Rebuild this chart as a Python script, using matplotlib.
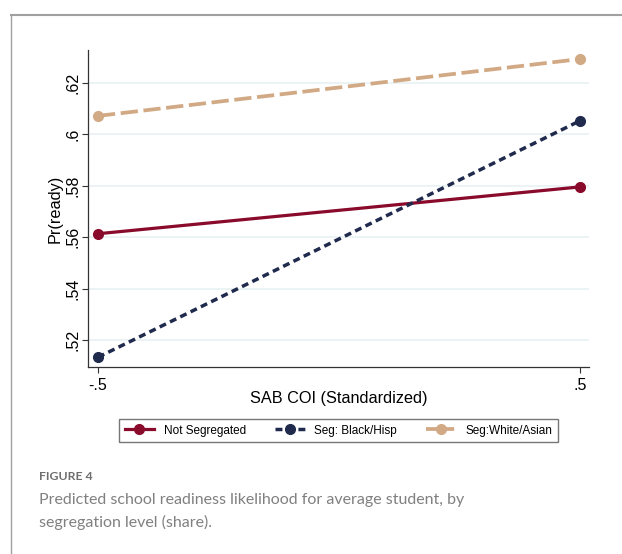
import matplotlib.pyplot as plt
from matplotlib.lines import Line2D

plt.rcParams['font.family'] = ['Liberation Sans', 'DejaVu Sans']

# data
x_vals = [-0.5, 0.5]
not_seg = [0.5613, 0.5795]
seg_black_hisp = [0.5133, 0.6052]
seg_white_asian = [0.6071, 0.6292]
y_ticks = [0.52, 0.54, 0.56, 0.58, 0.60, 0.62]
y_tick_labels = [".52", ".54", ".56", ".58", ".6", ".62"]
x_ticks = [-0.5, 0.5]
x_tick_labels = ["-.5", ".5"]

red = "#8a0a2b"
navy = "#1f2a4d"
tan = "#d2a985"

fig = plt.figure(figsize=(6.22, 5.54), dpi=100)
ax = fig.add_axes([0.1415, 0.3375, 0.8055, 0.5722])

for yt in y_ticks:
    ax.axhline(yt, color="#e6f0f3", lw=1.1, zorder=0)

ax.plot(x_vals, seg_white_asian, color=tan, lw=2.7, dashes=(4.6, 1.5),
        marker="o", ms=7, label="Seg:White/Asian")
ax.plot(x_vals, not_seg, color=red, lw=2.3, marker="o", ms=7,
        label="Not Segregated")
ax.plot(x_vals, seg_black_hisp, color=navy, lw=2.5, dashes=(2, 1.3),
        marker="o", ms=7, label="Seg: Black/Hisp")

ax.set_xlim(-0.5207, 0.5187)
ax.set_ylim(0.5095, 0.6327)
ax.set_yticks(y_ticks)
ax.set_yticklabels(y_tick_labels, rotation=90, va="center", fontsize=11.5)
ax.set_xticks(x_ticks)
ax.set_xticklabels(x_tick_labels, fontsize=11.5)
ax.tick_params(axis="both", length=4.3, width=0.8, color="#333333")
ax.tick_params(axis="y", pad=0.8)
ax.spines["top"].set_visible(False)
ax.spines["right"].set_visible(False)
for s in ["left", "bottom"]:
    ax.spines[s].set_color("#333333")
    ax.spines[s].set_linewidth(0.9)
ax.set_ylabel("Pr(ready)", fontsize=11.7, labelpad=2.5)
ax.set_xlabel("SAB COI (Standardized)", fontsize=11.7, labelpad=-1)

handles = [
    Line2D([], [], color=red, lw=2.3, marker="o", ms=7),
    Line2D([], [], color=navy, lw=2.5, dashes=(2, 1.3), marker="o", ms=7),
    Line2D([], [], color=tan, lw=2.7, dashes=(3, 1.5), marker="o", ms=7),
]
labels = ["Not Segregated", "Seg: Black/Hisp", "Seg:White/Asian"]
leg = fig.legend(handles, labels, loc="center", bbox_to_anchor=(0.5442, 0.2229),
                 ncol=3, fontsize=8.5, frameon=True, fancybox=False,
                 handlelength=2.5, columnspacing=2.5, borderpad=0.5,
                 handletextpad=0.8)
leg.get_frame().set_edgecolor("#555555")
leg.get_frame().set_linewidth(1.0)

# outer frame (top and left edges)
fig.add_artist(Line2D([11 / 622, 1.0], [1 - 15 / 554, 1 - 15 / 554],
                      transform=fig.transFigure, color="#a0a0a0", lw=1.5))
fig.add_artist(Line2D([11 / 622, 11 / 622], [0.0, 1 - 15 / 554],
                      transform=fig.transFigure, color="#a0a0a0", lw=1.0))

fig.text(39 / 622, 1 - 477 / 554, "FIGURE 4", fontsize=8.8, color="#6e6e6e",
         va="center", ha="left", family="Lato", weight="bold")
fig.text(39 / 622, 1 - 500 / 554,
         "Predicted school readiness likelihood for average student, by",
         fontsize=11.5, color="#808080", va="center", ha="left", family="Lato")
fig.text(39 / 622, 1 - 522 / 554, "segregation level (share).",
         fontsize=11.5, color="#808080", va="center", ha="left", family="Lato")

fig.savefig("out.png", dpi=100)
